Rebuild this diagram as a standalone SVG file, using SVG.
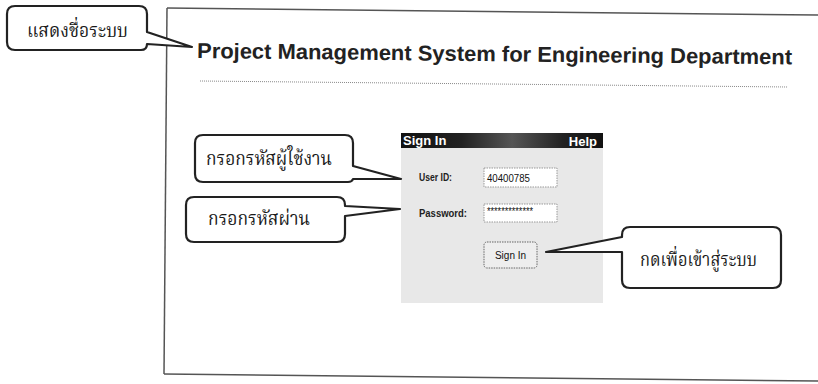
<svg xmlns="http://www.w3.org/2000/svg" width="818" height="384" viewBox="0 0 818 384">
<defs>
<style>
.frame{fill:none;stroke:#555;stroke-width:1.5}
.callout{fill:#fff;stroke:#222;stroke-width:2.2;stroke-linejoin:round}
.th{font-family:"Noto Serif Thai","Norasi","Loma","Garuda","Noto Sans Thai Looped","Noto Sans Thai","Noto Sans",sans-serif;font-size:19px;fill:#1a1a1a}
.title{font-family:"Liberation Sans",Arial,sans-serif;font-weight:bold;font-size:21.5px;fill:#222}
.lbl{font-family:"Liberation Sans",Arial,sans-serif;font-size:10px;fill:#111}
.lblb{font-family:"Liberation Sans",Arial,sans-serif;font-size:10px;font-weight:bold;fill:#222}
.hdr{font-family:"Liberation Sans",Arial,sans-serif;font-weight:bold;font-size:13px;fill:#fff}
.inp{fill:#fff;stroke:#999;stroke-width:1;stroke-dasharray:1.5 1}
</style>
<linearGradient id="hg" x1="0" y1="0" x2="1" y2="0">
<stop offset="0" stop-color="#111"/>
<stop offset="0.3" stop-color="#222"/>
<stop offset="0.55" stop-color="#555"/>
<stop offset="0.8" stop-color="#222"/>
<stop offset="1" stop-color="#111"/>
</linearGradient>
</defs>
<rect width="818" height="384" fill="#fff"/>
<g id="screen">
<line class="frame" x1="167" y1="8" x2="818" y2="15"/>
<line class="frame" x1="167" y1="8" x2="164" y2="374"/>
<line class="frame" x1="164" y1="374" x2="818" y2="381"/>
<text class="title" x="197" y="58" textLength="595" lengthAdjust="spacingAndGlyphs" transform="rotate(0.62 197 58)">Project Management System for Engineering Department</text>
<line x1="200" y1="81" x2="788" y2="87" stroke="#888" stroke-width="1" stroke-dasharray="1 1"/>
</g>
<g id="signin-panel">
<rect x="401" y="133" width="202" height="170" fill="#e8e8e8"/>
<rect x="401" y="133" width="202" height="15" fill="url(#hg)"/>
<text class="hdr" x="403" y="145">Sign In</text>
<text class="hdr" x="597" y="146" text-anchor="end">Help</text>
<text class="lblb" x="419" y="181" textLength="33" lengthAdjust="spacingAndGlyphs">User ID:</text>
<rect class="inp" x="484" y="168" width="73" height="19"/>
<text class="lbl" x="487" y="182" textLength="43" lengthAdjust="spacingAndGlyphs">40400785</text>
<text class="lblb" x="419" y="217" textLength="48" lengthAdjust="spacingAndGlyphs">Password:</text>
<rect class="inp" x="484" y="204" width="73" height="18"/>
<text class="lbl" x="487" y="215" font-size="7" textLength="46" lengthAdjust="spacingAndGlyphs">*************</text>
<rect x="484" y="242" width="53" height="26" rx="3" fill="#eee" stroke="#666" stroke-width="1" stroke-dasharray="1.5 1"/>
<text class="lbl" x="510.5" y="259" text-anchor="middle">Sign In</text>
</g>
<g id="callout-system-name">
<path class="callout" d="M15,6 H139 Q147,6 147,14 V32 L192,47 L147,44 Q147,50 141,50 H15 Q7,50 7,42 V14 Q7,6 15,6 Z"/>
<text class="th" x="77.5" y="37" text-anchor="middle" textLength="101" lengthAdjust="spacingAndGlyphs">แสดงชื่อระบบ</text>
</g>
<g id="callout-user-id">
<path class="callout" d="M203,135 H345 Q353,135 353,143 V166 L401,179 L353,179 Q352,182 348,182 H203 Q195,182 195,174 V143 Q195,135 203,135 Z"/>
<text class="th" x="269" y="165" text-anchor="middle" textLength="126" lengthAdjust="spacingAndGlyphs">กรอกรหัสผู้ใช้งาน</text>
</g>
<g id="callout-password">
<path class="callout" d="M194,197 H337 Q345,197 345,205 V206 L400,209 L345,216 V234 Q345,242 337,242 H194 Q186,242 186,234 V205 Q186,197 194,197 Z"/>
<text class="th" x="259" y="225" text-anchor="middle" textLength="102" lengthAdjust="spacingAndGlyphs">กรอกรหัสผ่าน</text>
</g>
<g id="callout-signin">
<path class="callout" d="M630,227 H773 Q781,227 781,235 V280 Q781,288 773,288 H630 Q622,288 622,280 V252 L546,252 L622,237 V235 Q622,227 630,227 Z"/>
<text class="th" x="698.5" y="266" text-anchor="middle" textLength="117" lengthAdjust="spacingAndGlyphs">กดเพื่อเข้าสู่ระบบ</text>
</g>
<g id="connectors"></g>
</svg>
